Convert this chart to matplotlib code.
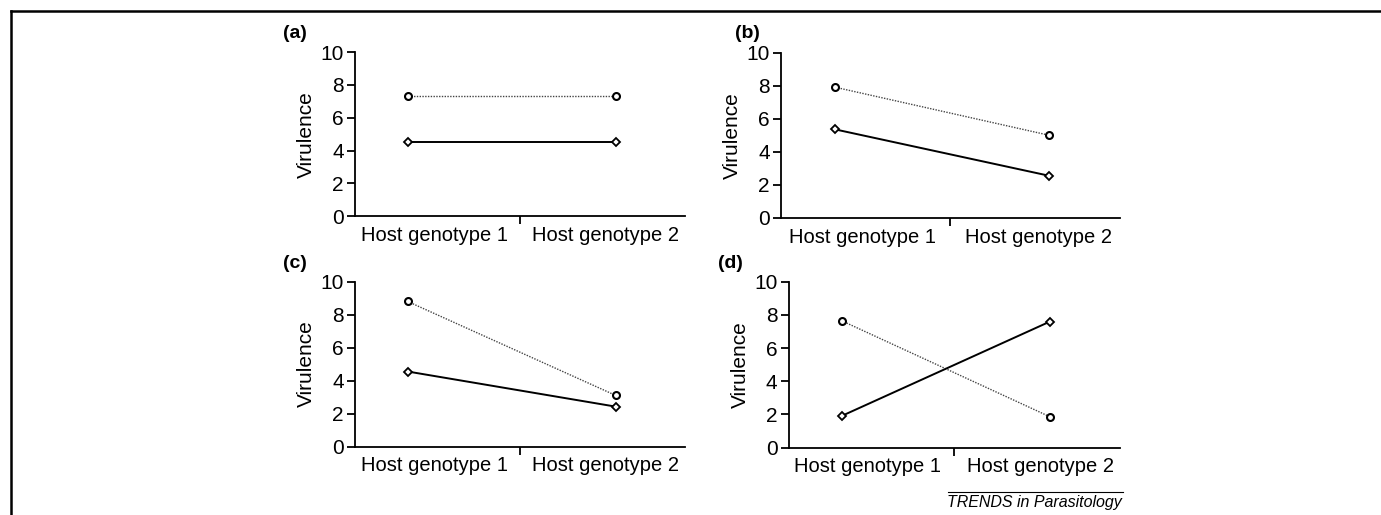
import matplotlib.pyplot as plt
from matplotlib.lines import Line2D

plt.rcParams['font.family'] = ['Liberation Sans', 'DejaVu Sans']

# category positions (axes x from 0 to 1)
x_points = [0.16, 0.79]
categories = ['Host genotype 1', 'Host genotype 2']
yticks = [0, 2, 4, 6, 8, 10]

panel_names = ['(a)', '(b)', '(c)', '(d)']
dotted_vals = {
    '(a)': [7.3, 7.3],
    '(b)': [7.9, 5.0],
    '(c)': [8.8, 3.1],
    '(d)': [7.65, 1.85],
}
solid_vals = {
    '(a)': [4.5, 4.5],
    '(b)': [5.35, 2.55],
    '(c)': [4.55, 2.42],
    '(d)': [1.9, 7.6],
}

# [left, bottom, width, height] in figure fractions
positions = {
    '(a)': [0.257, 0.580, 0.239, 0.319],
    '(b)': [0.5655, 0.577, 0.2455, 0.321],
    '(c)': [0.257, 0.133, 0.239, 0.320],
    '(d)': [0.571, 0.131, 0.2397, 0.322],
}
label_pos = {
    '(a)': (0.205, 0.935),
    '(b)': (0.532, 0.935),
    '(c)': (0.205, 0.489),
    '(d)': (0.520, 0.489),
}

fig = plt.figure(figsize=(13.81, 5.15), dpi=100)

for name in panel_names:
    ax = fig.add_axes(positions[name])
    ax.plot(x_points, dotted_vals[name], color='#444444', lw=1.0,
            linestyle=(0, (1, 1)), marker='o', ms=5, mfc='white',
            mec='black', mew=1.5, clip_on=False)
    ax.plot(x_points, solid_vals[name], color='black', lw=1.4,
            marker='D', ms=4, mfc='white', mec='black', mew=1.3,
            clip_on=False)
    ax.set_xlim(0, 1)
    ax.set_ylim(0, 10)
    ax.set_yticks(yticks)
    ax.spines['top'].set_visible(False)
    ax.spines['right'].set_visible(False)
    ax.spines['left'].set_linewidth(1.3)
    ax.spines['bottom'].set_linewidth(1.3)
    ax.tick_params(axis='y', direction='out', length=6, width=1.3,
                   labelsize=15, pad=2)
    ax.set_xticks([0.5])
    ax.set_xticklabels([''])
    ax.tick_params(axis='x', direction='out', length=6, width=1.3)
    for xc, lab in zip([0.24, 0.76], categories):
        ax.text(xc, -0.06, lab, transform=ax.transAxes, ha='center',
                va='top', fontsize=14.5)
    ax.set_ylabel('Virulence', fontsize=15, labelpad=3)
    fig.text(label_pos[name][0], label_pos[name][1], name, fontsize=14,
             fontweight='bold', ha='left', va='center')

# outer frame lines (top and left)
fig.add_artist(Line2D([11 / 1381, 1], [1 - 11 / 515, 1 - 11 / 515],
                      transform=fig.transFigure, color='black', lw=1.8))
fig.add_artist(Line2D([11 / 1381, 11 / 1381], [1 - 11 / 515, 0],
                      transform=fig.transFigure, color='black', lw=1.8))

# journal credit
fig.add_artist(Line2D([948 / 1381, 1123 / 1381], [1 - 492 / 515, 1 - 492 / 515],
                      transform=fig.transFigure, color='black', lw=0.8))
fig.text(1122 / 1381, 1 - 503 / 515, 'TRENDS in Parasitology', fontsize=11.5,
         style='italic', ha='right', va='center')

fig.savefig('out.png', dpi=100)
